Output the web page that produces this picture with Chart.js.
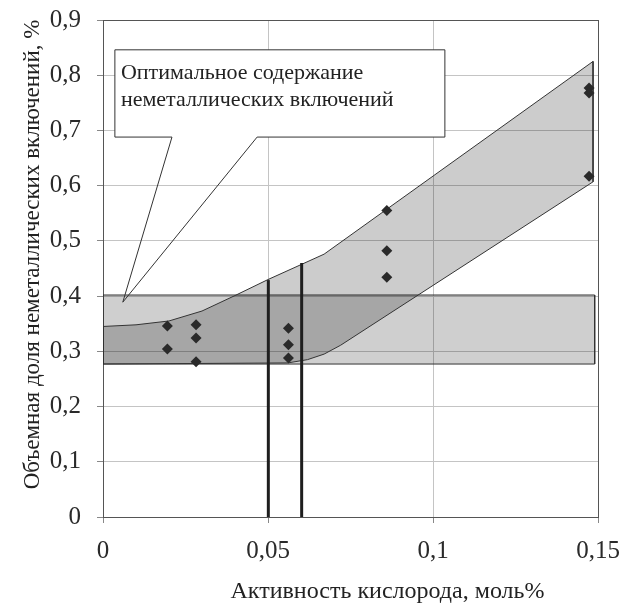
<!DOCTYPE html>
<html>
<head>
<meta charset="utf-8">
<script src="https://cdn.jsdelivr.net/npm/chart.js@4/dist/chart.umd.min.js"></script>
<style>
  html, body { margin: 0; padding: 0; background: #fff; }
  #wrap { width: 626px; height: 608px; }
</style>
</head>
<body>
<div id="wrap"><canvas id="chart" width="626" height="608"></canvas></div>
<script>
// Measured inclusions: oxygen activity (mol%) vs volume fraction (%)
const pointX = [0.0195, 0.0195, 0.0282, 0.0282, 0.0282, 0.0562, 0.0562, 0.0562, 0.086, 0.086, 0.086, 0.1473, 0.1473, 0.1473];
const pointY = [0.346, 0.304, 0.348, 0.324, 0.281, 0.342, 0.312, 0.288, 0.555, 0.482, 0.434, 0.777, 0.768, 0.617];

// Scatter band: upper edge (left to right), then lower edge (right to left)
const bandUpperX = [0, 0.01, 0.02, 0.03, 0.04, 0.05, 0.06, 0.067, 0.1485];
const bandUpperY = [0.345, 0.348, 0.355, 0.373, 0.401, 0.43, 0.457, 0.476, 0.825];
const bandLowerX = [0.1485, 0.072, 0.067, 0.062, 0.056, 0];
const bandLowerY = [0.607, 0.311, 0.295, 0.285, 0.279, 0.277];

// Optimal-content corridor
const optimalX = [0, 0.149];
const optimalY = [0.277, 0.402];

// Critical oxygen activity limits
const limitX = [0.0501, 0.0602];
const limitTop = [0.429, 0.46];

// Axis ticks
const xTickValues = [0, 0.05, 0.1, 0.15];
const yTickValues = [0, 0.1, 0.2, 0.3, 0.4, 0.5, 0.6, 0.7, 0.8, 0.9];

const xTitle = 'Активность кислорода, моль%';
const yTitle = 'Объемная доля неметаллических включений, %';
const calloutLines = ['Оптимальное содержание', 'неметаллических включений'];
// Callout geometry in data units: box corners, pointer base and tip
const callout = { x0: 0.0036, x1: 0.1036, y0: 0.688, y1: 0.846, baseL: 0.0209, baseR: 0.0467, tipX: 0.006, tipY: 0.389 };

const SERIF = '"Liberation Serif", "Times New Roman", serif';

const bandPoly = bandUpperX.map((x, i) => ({ x, y: bandUpperY[i] }))
  .concat(bandLowerX.map((x, i) => ({ x, y: bandLowerY[i] })));
bandPoly.push({ x: bandUpperX[0], y: bandUpperY[0] });

const rectPoly = [
  { x: optimalX[0], y: optimalY[1] }, { x: optimalX[1], y: optimalY[1] },
  { x: optimalX[1], y: optimalY[0] }, { x: optimalX[0], y: optimalY[0] },
  { x: optimalX[0], y: optimalY[1] }
];

const limitSets = limitX.map((x, i) => ({
  type: 'scatter', showLine: true, fill: false,
  data: [{ x, y: 0 }, { x, y: limitTop[i] }],
  borderColor: '#1e1e1e', borderWidth: 3, pointRadius: 0, order: 1
}));

// Callout box with pointer, plus axis titles placed off-centre
const annotatePlugin = {
  id: 'annotate',
  afterDatasetsDraw(chart) {
    const { ctx, chartArea: a, scales: { x, y } } = chart;
    const L = x.getPixelForValue(callout.x0), R = x.getPixelForValue(callout.x1);
    const T = y.getPixelForValue(callout.y1), B = y.getPixelForValue(callout.y0);
    const bl = x.getPixelForValue(callout.baseL), br = x.getPixelForValue(callout.baseR);
    const tx = x.getPixelForValue(callout.tipX), ty = y.getPixelForValue(callout.tipY);
    ctx.save();
    ctx.fillStyle = '#fff';
    ctx.fillRect(L, T, R - L, B - T);
    ctx.strokeStyle = '#333';
    ctx.lineWidth = 1;
    ctx.beginPath();
    ctx.moveTo(bl, B); ctx.lineTo(L, B); ctx.lineTo(L, T); ctx.lineTo(R, T);
    ctx.lineTo(R, B); ctx.lineTo(br, B); ctx.lineTo(tx, ty); ctx.closePath();
    ctx.stroke();
    ctx.fillStyle = '#222';
    ctx.font = '22px ' + SERIF;
    ctx.textBaseline = 'middle';
    ctx.textAlign = 'left';
    calloutLines.forEach((t, i) => ctx.fillText(t, L + 6, T + 23 + i * 27));

    ctx.font = '24px ' + SERIF;
    ctx.textAlign = 'center';
    ctx.fillText(xTitle, (a.left + a.right) / 2 + 37, chart.height - 16);
    ctx.font = '23px ' + SERIF;
    ctx.translate(33, (a.top + a.bottom) / 2 - 14);
    ctx.rotate(-Math.PI / 2);
    ctx.fillText(yTitle, 0, 0);
    ctx.restore();
  }
};

const fmt = v => String(Math.round(v * 100) / 100).replace('.', ',');
const near = (a, b) => Math.abs(a - b) < 1e-6;

new Chart(document.getElementById('chart'), {
  type: 'scatter',
  data: {
    datasets: [
      {
        data: rectPoly, showLine: true, fill: 'shape', tension: 0,
        backgroundColor: 'rgba(0,0,0,0.19)', borderColor: '#333', borderWidth: 1,
        pointRadius: 0, order: 4
      },
      {
        data: bandPoly, showLine: true, fill: 'shape', tension: 0,
        backgroundColor: 'rgba(0,0,0,0.2)', borderColor: '#333', borderWidth: 1,
        pointRadius: 0, order: 3
      },
      ...limitSets,
      {
        data: pointX.map((x, i) => ({ x, y: pointY[i] })),
        pointStyle: 'rectRot', pointRadius: 5.5, backgroundColor: '#2a2a2a',
        borderColor: '#2a2a2a', borderWidth: 0, showLine: false, order: 0
      }
    ]
  },
  options: {
    responsive: false,
    devicePixelRatio: 1,
    animation: false,
    layout: { padding: { left: 0, right: 28, top: 20, bottom: 0 } },
    plugins: { legend: { display: false }, tooltip: { enabled: false } },
    scales: {
      x: {
        type: 'linear', min: 0, max: 0.15,
        afterBuildTicks: s => { s.ticks = xTickValues.map(v => ({ value: v })); },
        afterFit: s => { s.height = 91; s.paddingLeft = 0; s.paddingRight = 0; },
        ticks: { callback: fmt, color: '#2a2a2a', font: { family: SERIF, size: 25 }, padding: 13, maxRotation: 0 },
        grid: {
          color: c => near(c.tick.value, 0.15) ? '#555' : '#c4c4c4',
          tickColor: '#888', tickLength: 6, lineWidth: 1
        },
        border: { color: '#555', width: 1 },
        title: { display: false }
      },
      y: {
        type: 'linear', min: 0, max: 0.9,
        afterBuildTicks: s => { s.ticks = yTickValues.map(v => ({ value: v })); },
        afterFit: s => { s.width = 103; s.paddingTop = 0; s.paddingBottom = 0; },
        ticks: { callback: fmt, color: '#2a2a2a', font: { family: SERIF, size: 25 }, padding: 16 },
        grid: {
          color: c => near(c.tick.value, 0.9) ? '#555' : '#c4c4c4',
          tickColor: '#888', tickLength: 6, lineWidth: 1
        },
        border: { color: '#555', width: 1 },
        title: { display: false }
      }
    }
  },
  plugins: [annotatePlugin]
});
</script>
</body>
</html>
